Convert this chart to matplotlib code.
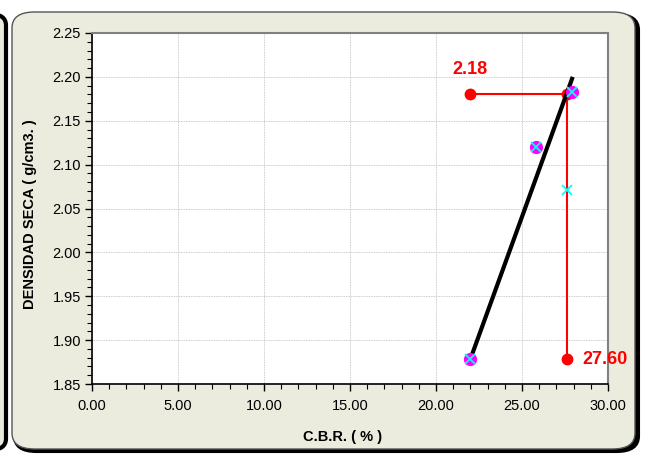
import matplotlib
matplotlib.use("Agg")
import matplotlib.pyplot as plt
from matplotlib.patches import FancyBboxPatch
from matplotlib.ticker import MultipleLocator, FormatStrFormatter

plt.rcParams['font.family'] = ['Liberation Sans', 'DejaVu Sans']

# Ensayo CBR: densidad seca vs CBR
cbr = [22.0, 25.8, 27.9]
densidad = [1.878, 2.12, 2.183]

# Recta de tendencia
trend_cbr = [21.9, 27.95]
trend_dens = [1.873, 2.200]

# Densidad máxima y CBR resultante
mdd = 2.18
dens_95 = 2.071
cbr_result = 27.60
guide_h_x = [22.0, cbr_result]
guide_v_y = [mdd, 1.878]

W, H = 646, 454
fig = plt.figure(figsize=(W / 100, H / 100), dpi=100)
fig.patch.set_facecolor('white')

def fx(px):
    return px / W

def fy(py):
    return 1 - py / H

# fragmento del panel vecino a la izquierda
left_panel = FancyBboxPatch((fx(-60), fy(450)), fx(66), fy(14) - fy(450),
                            boxstyle="round,pad=0,rounding_size=0.025",
                            transform=fig.transFigure, facecolor='#EAEBDC',
                            edgecolor='black', linewidth=3, zorder=0)
fig.patches.append(left_panel)

# sombra del panel principal
shadow = FancyBboxPatch((fx(14), fy(452)), fx(625), fy(14) - fy(452),
                        boxstyle="round,pad=0,rounding_size=0.035",
                        transform=fig.transFigure, facecolor='black',
                        edgecolor='black', linewidth=1.5, zorder=0)
fig.patches.append(shadow)
panel = FancyBboxPatch((fx(12), fy(449)), fx(623), fy(12) - fy(449),
                       boxstyle="round,pad=0,rounding_size=0.035",
                       transform=fig.transFigure, facecolor='#EBECDE',
                       edgecolor='#555555', linewidth=1.0, zorder=0)
fig.patches.append(panel)

ax = fig.add_axes([fx(92), fy(384), fx(608) - fx(92), fy(33) - fy(384)])
ax.set_zorder(5)
ax.set_facecolor('white')
ax.set_xlim(0, 30)
ax.set_ylim(1.85, 2.25)

ax.xaxis.set_major_locator(MultipleLocator(5))
ax.xaxis.set_minor_locator(MultipleLocator(1))
ax.yaxis.set_major_locator(MultipleLocator(0.05))
ax.yaxis.set_minor_locator(MultipleLocator(0.01))
ax.xaxis.set_major_formatter(FormatStrFormatter('%.2f'))
ax.yaxis.set_major_formatter(FormatStrFormatter('%.2f'))

ax.grid(True, which='major', color='#BBBBBB', linestyle=(0, (1, 1)), linewidth=0.6)
ax.tick_params(which='major', direction='out', length=5, width=1, labelsize=10.5,
               colors='black')
ax.tick_params(axis='x', which='major', pad=6)
ax.tick_params(axis='y', which='major', pad=3)
ax.tick_params(which='minor', direction='out', length=3.5, width=0.8, colors='black')

for s in ['left', 'bottom']:
    ax.spines[s].set_color('black')
    ax.spines[s].set_linewidth(1.2)
for s in ['top', 'right']:
    ax.spines[s].set_color('#808080')
    ax.spines[s].set_linewidth(1.5)

# líneas guía
ax.plot(guide_h_x, [mdd, mdd], color='red', linewidth=1.5, zorder=3)
ax.plot([cbr_result, cbr_result], guide_v_y, color='red', linewidth=1.5, zorder=3)
ax.plot([guide_h_x[0], cbr_result, cbr_result], [mdd, mdd, guide_v_y[1]], 'o',
        color='red', markersize=7.5, zorder=4)

# recta de tendencia
ax.plot(trend_cbr, trend_dens, color='black', linewidth=3, zorder=5,
        solid_capstyle='butt')

# puntos del ensayo
ax.plot(cbr, densidad, 'o', color='#FF00FF', markersize=8.5, zorder=6)
ax.plot(cbr, densidad, 'x', color='#00FFFF', markersize=7, markeredgewidth=1.3, zorder=7)
ax.plot([cbr_result], [dens_95], 'x', color='#00FFFF', markersize=7,
        markeredgewidth=1.3, zorder=7)

ax.text(guide_h_x[0], mdd + 0.028, f'{mdd:.2f}', color='red', fontsize=13,
        fontweight='bold', ha='center', va='center')
ax.text(cbr_result + 0.9, guide_v_y[1], f'{cbr_result:.2f}', color='red', fontsize=13,
        fontweight='bold', ha='left', va='center', zorder=8)

fig.text(fx(30), fy(214), 'DENSIDAD SECA ( g/cm3. )', rotation=90, fontsize=10.5,
         fontweight='bold', ha='center', va='center', zorder=6)
fig.text(fx(343), fy(437), 'C.B.R. ( % )', fontsize=10.5, fontweight='bold',
         ha='center', va='center', zorder=6)

fig.savefig('out.png', dpi=100)
